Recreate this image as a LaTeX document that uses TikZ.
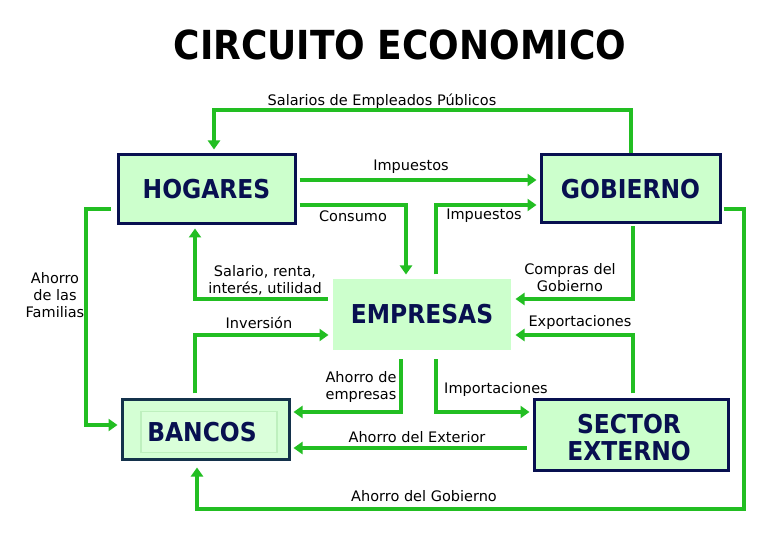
\documentclass[tikz,border=0pt]{standalone}
\usepackage{fontspec}
\setmainfont{DejaVu Sans}
\newfontfamily\cond{DejaVu Sans Condensed}
\usetikzlibrary{arrows.meta}
\definecolor{flowgreen}{RGB}{34,190,34}
\definecolor{boxfill}{RGB}{204,255,204}
\definecolor{navy}{RGB}{8,16,80}
\definecolor{bankborder}{RGB}{20,50,75}
\definecolor{bankinner}{RGB}{218,255,218}
\definecolor{bankinnerline}{RGB}{190,240,190}
\tikzset{
  flow/.style={draw=flowgreen, line width=4pt, -{Triangle[length=9pt,width=12pt]}, shorten >=3pt},
  box/.style={draw=navy, line width=3pt, fill=boxfill, inner sep=0pt, text=navy, font=\cond\bfseries\fontsize{26}{28}\selectfont, align=center},
  lbl/.style={font=\fontsize{14.5}{17}\selectfont, align=center, inner sep=0pt, text=black}
}
\begin{document}
\begin{tikzpicture}[x=1pt,y=-1pt]
\useasboundingbox (0,0) rectangle (780,540);
\fill[white] (0,0) rectangle (780,540);
\node[font=\cond\bfseries\fontsize{40}{42}\selectfont, inner sep=0pt] (title) at (400,45) {CIRCUITO ECONOMICO};
% boxes
\node[box, minimum width=177pt, minimum height=69pt] (hog) at (206.5,189.5) {HOGARES};
\node[box, minimum width=179pt, minimum height=68pt] (gob) at (630.5,189) {GOBIERNO};
\node[box, draw=none, minimum width=178pt, minimum height=71pt] (emp) at (422,314.5) {EMPRESAS};
\node[box, draw=bankborder, fill=boxfill!85!white, minimum width=167pt, minimum height=60pt] (ban) at (205.5,429) {};
\node[draw=bankinnerline, line width=1.5pt, fill=bankinner, minimum width=136pt, minimum height=41pt, inner sep=0pt] (baninner) at (209,432) {};
\node[text=navy, font=\cond\bfseries\fontsize{26}{28}\selectfont, inner sep=0pt] (bantext) at (202,432) {BANCOS};
\node[box, minimum width=194pt, minimum height=71pt] (sec) at (631,434.5) {};
\node[text=navy, font=\cond\bfseries\fontsize{26}{27}\selectfont, inner sep=0pt, align=center] (sectext) at (629,438) {SECTOR\\EXTERNO};
% flows
\draw[flow, shorten >=4pt] (gob.north) -- ++(0,-43) -| ([xshift=7.5pt]hog.north);
\draw[flow, shorten <=3pt] ([yshift=9.5pt]hog.east) -- ([yshift=9pt]gob.west);
\draw[flow, shorten <=3pt] ([yshift=-15.5pt]hog.east) -| ([xshift=-16pt]emp.north);
\draw[flow, shorten <=3pt] ([xshift=14pt]emp.north) |- ([yshift=-16pt]gob.west);
\draw[flow, shorten <=4pt] ([yshift=15.5pt]emp.west) -| ([xshift=-11.5pt]hog.south);
\draw[flow, shorten <=4pt] ([xshift=-10.5pt]ban.north) |- ([yshift=-20.5pt]emp.west);
\draw[flow, shorten <=6pt] ([yshift=-19.5pt]hog.west) -- ++(-31,0) |- ([yshift=4pt]ban.west);
\draw[flow, shorten <=2pt] ([xshift=2.5pt]gob.south) |- ([yshift=15.5pt]emp.east);
\draw[flow, shorten <=4pt] ([xshift=2pt]sec.north) |- ([yshift=-20.5pt]emp.east);
\draw[flow, shorten <=8pt] ([xshift=-21pt]emp.south) |- ([yshift=17pt]ban.east);
\draw[flow, shorten <=8pt] ([xshift=14pt]emp.south) |- ([yshift=22.5pt]sec.west);
\draw[flow, shorten <=6pt] ([yshift=-13.5pt]sec.west) -- ([yshift=-19pt]ban.east);
\draw[flow, shorten <=2pt, shorten >=7pt] ([yshift=-20pt]gob.east) -- ++(22,0) -- ++(0,300) -| ([xshift=-8.5pt]ban.south);
% labels
\node[lbl] (l1) at (382,101) {Salarios de Empleados Públicos};
\node[lbl] (l2) at (411,167) {Impuestos};
\node[lbl] (l3) at (353,216) {Consumo};
\node[lbl] (l4) at (484,216) {Impuestos};
\node[lbl] (l5) at (265,280) {Salario, renta,\\interés, utilidad};
\node[lbl] (l6) at (259,323) {Inversión};
\node[lbl] (l7) at (55,295) {Ahorro\\de las\\Familias};
\node[lbl] (l8) at (570,278) {Compras del\\Gobierno};
\node[lbl] (l9) at (580,323) {Exportaciones};
\node[lbl] (l10) at (361,387) {Ahorro de\\empresas};
\node[lbl] (l11) at (496,389) {Importaciones};
\node[lbl] (l12) at (417,437) {Ahorro del Exterior};
\node[lbl] (l13) at (424,496) {Ahorro del Gobierno};
\end{tikzpicture}
\end{document}
